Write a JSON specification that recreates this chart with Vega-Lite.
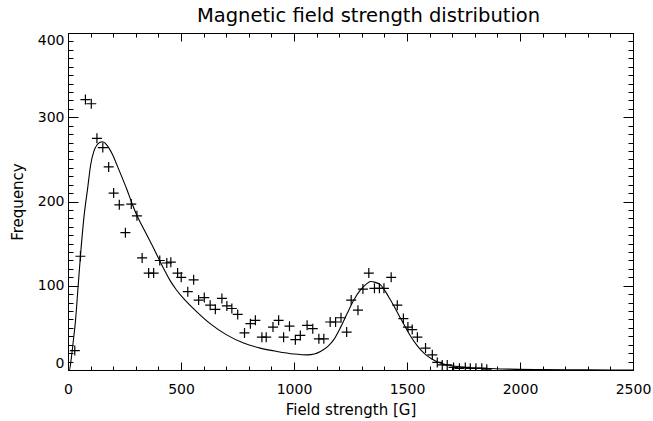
{
  "$schema": "https://vega.github.io/schema/vega-lite/v6.json",
  "width": 565,
  "height": 337,
  "autosize": {"type": "none"},
  "padding": {"left": 68, "top": 33, "right": 21, "bottom": 51},
  "background": "white",
  "config": {
    "view": {"stroke": "black", "strokeWidth": 1},
    "font": "DejaVu Sans",
    "axis": {
      "domainColor": "black",
      "tickColor": "black",
      "labelColor": "black",
      "titleColor": "black",
      "labelFont": "DejaVu Sans",
      "titleFont": "DejaVu Sans",
      "labelFontSize": 14,
      "titleFontSize": 15,
      "titleFontWeight": "normal",
      "grid": false,
      "labelFlush": false,
      "labelOverlap": false
    }
  },
  "title": {
    "text": "Magnetic field strength distribution",
    "font": "DejaVu Sans",
    "fontSize": 19.5,
    "fontWeight": "normal",
    "color": "black",
    "anchor": "middle",
    "dx": 18,
    "baseline": "alphabetic",
    "offset": -9
  },
  "datasets": {
    "obs": [
      {"B": 30, "N": 23}, {"B": 55, "N": 135}, {"B": 77, "N": 321}, {"B": 103, "N": 316},
      {"B": 128, "N": 275}, {"B": 154, "N": 264}, {"B": 180, "N": 241}, {"B": 202, "N": 210},
      {"B": 227, "N": 196}, {"B": 254, "N": 163}, {"B": 280, "N": 197}, {"B": 305, "N": 183},
      {"B": 328, "N": 133}, {"B": 357, "N": 115}, {"B": 379, "N": 115}, {"B": 406, "N": 130},
      {"B": 437, "N": 127}, {"B": 455, "N": 128}, {"B": 485, "N": 115}, {"B": 501, "N": 110},
      {"B": 530, "N": 93}, {"B": 556, "N": 107}, {"B": 578, "N": 83}, {"B": 603, "N": 86},
      {"B": 629, "N": 77}, {"B": 652, "N": 72}, {"B": 681, "N": 85}, {"B": 703, "N": 76},
      {"B": 725, "N": 73}, {"B": 751, "N": 66}, {"B": 781, "N": 44}, {"B": 807, "N": 55},
      {"B": 829, "N": 59}, {"B": 858, "N": 39}, {"B": 877, "N": 39}, {"B": 907, "N": 51},
      {"B": 932, "N": 59}, {"B": 954, "N": 39}, {"B": 980, "N": 52}, {"B": 1006, "N": 36},
      {"B": 1028, "N": 41}, {"B": 1058, "N": 53}, {"B": 1083, "N": 49}, {"B": 1110, "N": 37},
      {"B": 1132, "N": 37}, {"B": 1160, "N": 57}, {"B": 1184, "N": 57}, {"B": 1208, "N": 62},
      {"B": 1233, "N": 45}, {"B": 1253, "N": 83}, {"B": 1283, "N": 71}, {"B": 1305, "N": 96},
      {"B": 1331, "N": 115}, {"B": 1356, "N": 97}, {"B": 1378, "N": 97}, {"B": 1398, "N": 97},
      {"B": 1430, "N": 110}, {"B": 1457, "N": 77}, {"B": 1484, "N": 61}, {"B": 1504, "N": 51},
      {"B": 1523, "N": 48}, {"B": 1546, "N": 39}, {"B": 1582, "N": 26}, {"B": 1612, "N": 18},
      {"B": 1634, "N": 9}, {"B": 1656, "N": 6}, {"B": 1678, "N": 6}, {"B": 1706, "N": 3},
      {"B": 1732, "N": 2}, {"B": 1758, "N": 3}, {"B": 1780, "N": 2}, {"B": 1805, "N": 2},
      {"B": 1831, "N": 2}, {"B": 1853, "N": 1}
    ],
    "fit": [
      {"B": 0, "N": 0}, {"B": 6, "N": 0}, {"B": 15, "N": 15}, {"B": 25, "N": 38}, {"B": 32, "N": 55},
      {"B": 45, "N": 100}, {"B": 55, "N": 135}, {"B": 70, "N": 180}, {"B": 88, "N": 218},
      {"B": 100, "N": 243}, {"B": 115, "N": 260}, {"B": 128, "N": 267}, {"B": 140, "N": 270},
      {"B": 153, "N": 271}, {"B": 165, "N": 269}, {"B": 180, "N": 264}, {"B": 200, "N": 254},
      {"B": 217, "N": 243}, {"B": 240, "N": 228}, {"B": 261, "N": 214}, {"B": 280, "N": 200},
      {"B": 304, "N": 184}, {"B": 330, "N": 170}, {"B": 357, "N": 156}, {"B": 380, "N": 144},
      {"B": 400, "N": 133}, {"B": 422, "N": 121}, {"B": 450, "N": 107}, {"B": 480, "N": 95},
      {"B": 511, "N": 85}, {"B": 570, "N": 69}, {"B": 629, "N": 55}, {"B": 700, "N": 42},
      {"B": 777, "N": 32}, {"B": 850, "N": 26}, {"B": 925, "N": 22}, {"B": 1000, "N": 19},
      {"B": 1058, "N": 18}, {"B": 1090, "N": 19}, {"B": 1117, "N": 22}, {"B": 1150, "N": 28},
      {"B": 1176, "N": 36}, {"B": 1205, "N": 50}, {"B": 1235, "N": 67}, {"B": 1265, "N": 83},
      {"B": 1294, "N": 95}, {"B": 1320, "N": 102}, {"B": 1339, "N": 105}, {"B": 1360, "N": 104},
      {"B": 1383, "N": 101}, {"B": 1405, "N": 93}, {"B": 1427, "N": 83}, {"B": 1450, "N": 72},
      {"B": 1472, "N": 61}, {"B": 1495, "N": 50}, {"B": 1516, "N": 40}, {"B": 1545, "N": 29},
      {"B": 1575, "N": 20}, {"B": 1610, "N": 13}, {"B": 1649, "N": 8}, {"B": 1700, "N": 5},
      {"B": 1767, "N": 3}, {"B": 1850, "N": 2}, {"B": 1950, "N": 1}, {"B": 2100, "N": 0.5},
      {"B": 2300, "N": 0.2}, {"B": 2500, "N": 0}
    ]
  },
  "layer": [
    {
      "data": {"name": "fit"},
      "mark": {"type": "line", "color": "black", "strokeWidth": 1.1, "interpolate": "monotone", "clip": true},
      "encoding": {
        "x": {
          "field": "B", "type": "quantitative",
          "scale": {"domain": [0, 2500], "nice": false, "zero": false},
          "axis": {
            "orient": "bottom",
            "title": "Field strength [G]",
            "values": [0,100,200,300,400,500,600,700,800,900,1000,1100,1200,1300,1400,1500,1600,1700,1800,1900,2000,2100,2200,2300,2400,2500],
            "tickSize": {"condition": {"test": "datum.value % 500 === 0", "value": -8}, "value": -4},
            "labelExpr": "datum.value % 500 === 0 ? datum.label : ''",
            "format": "d",
            "labelPadding": 20,
            "titlePadding": 2
          }
        },
        "y": {
          "field": "N", "type": "quantitative",
          "scale": {"domain": [0, 400], "nice": false, "zero": false},
          "axis": {
            "orient": "left",
            "title": "Frequency",
            "values": [0,10,20,30,40,50,60,70,80,90,100,110,120,130,140,150,160,170,180,190,200,210,220,230,240,250,260,270,280,290,300,310,320,330,340,350,360,370,380,390,400],
            "tickSize": {"condition": {"test": "datum.value % 100 === 0", "value": -10}, "value": -5},
            "labelExpr": "datum.value % 100 === 0 ? datum.label : ''",
            "labelFlush": true,
            "format": "d",
            "labelPadding": 14,
            "titlePadding": 12
          }
        }
      }
    },
    {
      "data": {"name": "obs"},
      "mark": {"type": "point", "shape": "M-1,0L1,0M0,-1L0,1", "size": 100, "stroke": "black", "strokeWidth": 1.2, "filled": false, "opacity": 1, "clip": true},
      "encoding": {
        "x": {
          "field": "B", "type": "quantitative",
          "axis": {
            "orient": "top",
            "title": null,
            "labels": false,
            "values": [0,100,200,300,400,500,600,700,800,900,1000,1100,1200,1300,1400,1500,1600,1700,1800,1900,2000,2100,2200,2300,2400,2500],
            "tickSize": {"condition": {"test": "datum.value % 500 === 0", "value": -8}, "value": -4}
          }
        },
        "y": {
          "field": "N", "type": "quantitative",
          "axis": {
            "orient": "right",
            "title": null,
            "labels": false,
            "values": [0,10,20,30,40,50,60,70,80,90,100,110,120,130,140,150,160,170,180,190,200,210,220,230,240,250,260,270,280,290,300,310,320,330,340,350,360,370,380,390,400],
            "tickSize": {"condition": {"test": "datum.value % 100 === 0", "value": -10}, "value": -5}
          }
        }
      }
    }
  ],
  "resolve": {"scale": {"x": "shared", "y": "shared"}, "axis": {"x": "independent", "y": "independent"}}
}
